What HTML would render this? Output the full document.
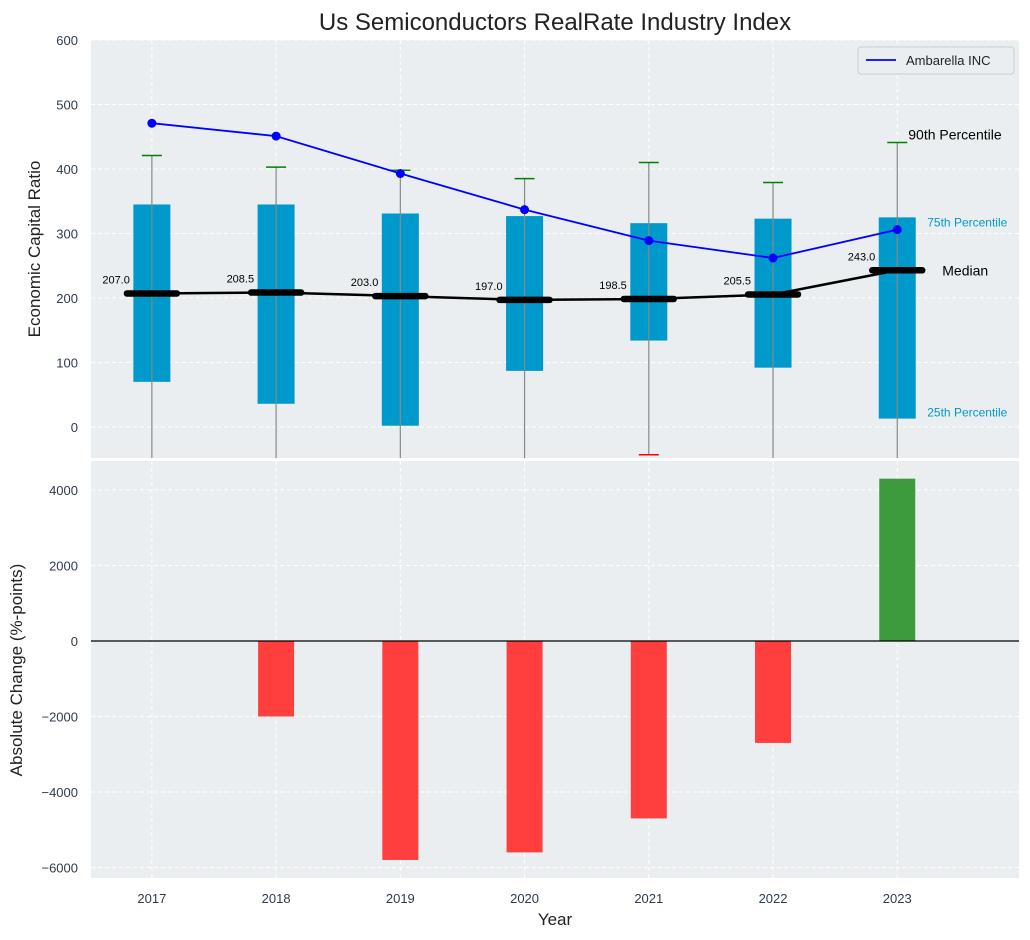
<!DOCTYPE html>
<html><head><meta charset="utf-8"><style>
body{margin:0;background:#fff;}
svg{display:block;font-family:"Liberation Sans",sans-serif;}
</style></head><body>
<svg id="c" width="1030" height="940"></svg>
<script>
const years=[2017,2018,2019,2020,2021,2022,2023];
const p10=[-60,-60,-60,-60,-43,-60,-60];
const p25=[70,36,2,87,134,92,13];
const medians=[207,208.5,203,197,198.5,205.5,243];
const p75=[345,345,331,327,316,323,325];
const p90=[421,403,398,385,410,379,441];
const company=[471,451,393,337,289,262,306];
const changes=[0,-2000,-5800,-5600,-4700,-2700,4300];
const yTicksTop=[0,100,200,300,400,500,600];
const yTicksBot=[-6000,-4000,-2000,0,2000,4000];

const NS="http://www.w3.org/2000/svg";
const svg=document.getElementById('c');
function el(tag,attrs,parent){const e=document.createElementNS(NS,tag);for(const k in attrs)e.setAttribute(k,attrs[k]);(parent||svg).appendChild(e);return e;}
const L=91,R=1019;
const x=v=>L+(v-2016.51)*(R-L)/(2023.98-2016.51);
const yT=v=>427-v*0.645;
const yB=v=>641-v*(151/4000);
const T1=40,B1=458,T2=461,B2=878;

let bg=el('rect',{x:L,y:T1,width:R-L,height:B1-T1,fill:'#eaeef0'});

let bg2=el('rect',{x:L,y:T2,width:R-L,height:B2-T2,fill:'#eaeef0'});

el('defs',{}).innerHTML='<clipPath id="cp1"><rect x="91" y="40" width="928" height="418"/></clipPath><clipPath id="cp2"><rect x="91" y="461" width="928" height="417"/></clipPath>';
const g1=el('g',{'clip-path':'url(#cp1)'});
const g2=el('g',{'clip-path':'url(#cp2)'});
years.forEach(yr=>{
  el('line',{x1:x(yr),x2:x(yr),y1:T1,y2:B1,stroke:'#fff','stroke-dasharray':'4,3','stroke-width':1},g1);
  el('line',{x1:x(yr),x2:x(yr),y1:T2,y2:B2,stroke:'#fff','stroke-dasharray':'4,3','stroke-width':1},g2);
  let t=el('text',{x:x(yr),y:903,'text-anchor':'middle','font-size':13,fill:'#2d3b4e'});t.textContent=yr;
  
});
yTicksTop.forEach(v=>{
  el('line',{x1:L,x2:R,y1:yT(v),y2:yT(v),stroke:'#fff','stroke-dasharray':'4,3'},g1);
  let t=el('text',{x:78,y:yT(v)+5,'text-anchor':'end','font-size':13,fill:'#2d3b4e'});t.textContent=v;
  
});
yTicksBot.forEach(v=>{
  el('line',{x1:L,x2:R,y1:yB(v),y2:yB(v),stroke:'#fff','stroke-dasharray':'4,3'},g2);
  let t=el('text',{x:78,y:yB(v)+5,'text-anchor':'end','font-size':13,fill:'#2d3b4e'});t.textContent=v<0?'\u2212'+(-v):v;
  
});
const bw=37;
years.forEach((yr,i)=>{
  const cx=x(yr);
  let b=el('rect',{x:cx-bw/2,y:yT(p75[i]),width:bw,height:yT(p25[i])-yT(p75[i]),fill:'#0099cc'},g1);
  
  el('line',{x1:cx,x2:cx,y1:yT(p10[i]),y2:yT(p90[i]),stroke:'#888','stroke-width':1.2},g1);
  el('line',{x1:cx-10,x2:cx+10,y1:yT(p90[i]),y2:yT(p90[i]),stroke:'green','stroke-width':1.5},g1);
  el('line',{x1:cx-10,x2:cx+10,y1:yT(p10[i]),y2:yT(p10[i]),stroke:'red','stroke-width':1.5},g1);
});
el('polyline',{points:years.map((yr,i)=>x(yr)+','+yT(medians[i])).join(' '),fill:'none',stroke:'#000','stroke-width':2.5},g1);
years.forEach((yr,i)=>{
  let m=el('line',{x1:x(yr)-25,x2:x(yr)+25,y1:yT(medians[i]),y2:yT(medians[i]),stroke:'#000','stroke-width':6.5,'stroke-linecap':'round'},g1);
  
  let t=el('text',{x:x(yr)-22,y:yT(medians[i])-10,'text-anchor':'end','font-size':11,fill:'#000'});t.textContent=medians[i].toFixed(1);
  
});
let cl=el('polyline',{points:years.map((yr,i)=>x(yr)+','+yT(company[i])).join(' '),fill:'none',stroke:'blue','stroke-width':1.8},g1);

years.forEach((yr,i)=>{let p=el('circle',{cx:x(yr),cy:yT(company[i]),r:4.5,fill:'blue'},g1);
  });
years.forEach((yr,i)=>{
  const v=changes[i];if(v===0)return;
  let b=el('rect',{x:x(yr)-18,y:Math.min(yB(v),yB(0)),width:36,height:Math.abs(yB(v)-yB(0)),fill:v>0?'#3d9b3d':'#ff3e3e'},g2);
  
});
el('line',{x1:L,x2:R,y1:yB(0),y2:yB(0),stroke:'#000','stroke-width':1.2},g2);
const last=years.length-1,lx=x(years[last]);
function txt(s,ax,ay,size,col,name){let t=el('text',{x:ax,y:ay,'font-size':size,fill:col});t.textContent=s;}
txt('90th Percentile',lx+11,yT(p90[last])-3,14,'#000','p90-annotation');
txt('75th Percentile',lx+30,yT(p75[last])+9,12,'#0099cc','p75-annotation');
txt('Median',lx+45,yT(medians[last])+5,14,'#000','median-annotation');
txt('25th Percentile',lx+30,yT(p25[last])-2,12,'#0099cc','p25-annotation');
let lg=el('g',{});
el('rect',{x:858,y:47,width:156,height:27,fill:'#eaeef0',stroke:'#ccc',rx:3},lg);
el('line',{x1:866,x2:896,y1:60,y2:60,stroke:'blue','stroke-width':1.8},lg);
let lt=el('text',{x:906,y:65,'font-size':13,fill:'#222'},lg);lt.textContent='Ambarella INC';
let tt=el('text',{x:555,y:30,'text-anchor':'middle','font-size':24,fill:'#222'});tt.textContent='Us Semiconductors RealRate Industry Index';

let y1=el('text',{x:0,y:0,'text-anchor':'middle','font-size':17,fill:'#222',transform:'translate(40,249) rotate(-90)'});y1.textContent='Economic Capital Ratio';

let y2=el('text',{x:0,y:0,'text-anchor':'middle','font-size':17,fill:'#222',transform:'translate(22,670) rotate(-90)'});y2.textContent='Absolute Change (%-points)';

let xt=el('text',{x:555,y:925,'text-anchor':'middle','font-size':17,fill:'#222'});xt.textContent='Year';

</script>
</body></html>
